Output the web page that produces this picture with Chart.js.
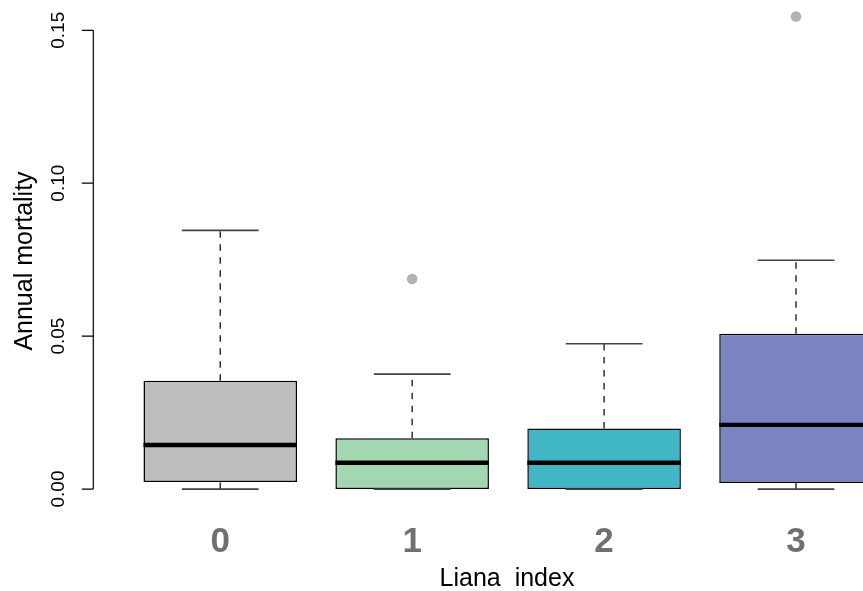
<!DOCTYPE html>
<html>
<head>
<meta charset="utf-8">
<script src="https://cdn.jsdelivr.net/npm/chart.js@4.4.0/dist/chart.umd.min.js"></script>
<style>
  html, body { margin: 0; padding: 0; background: #fff; }
  #wrap { width: 863px; height: 591px; }
</style>
</head>
<body>
<div id="wrap"><canvas id="mortChart" width="863" height="591"></canvas></div>
<script>
// groups on the x axis
const lianaIndex = ['0', '1', '2', '3'];
const positions = [1, 2, 3, 4];

// box statistics
const whiskerLow = [0, 0, 0, 0];
const q1 = [0.0023, 0, 0, 0.0020];
const median = [0.0144, 0.0086, 0.0086, 0.0210];
const q3 = [0.0354, 0.0166, 0.0198, 0.0508];
const whiskerHigh = [0.0846, 0.0376, 0.0475, 0.0748];

// outliers (position, value)
const outlierPos = [2, 4];
const outlierValue = [0.0687, 0.1545];

const yTicks = [0, 0.05, 0.10, 0.15];
const yTickLabels = ['0.00', '0.05', '0.10', '0.15'];

const boxColors = ['#bebebe', '#a3d7b2', '#41b6c4', '#7b84c1'];
const FONT = "'Liberation Sans', Arial, Helvetica, sans-serif";

// whiskers, caps and medians drawn on top of the boxes
const boxExtras = {
	id: 'boxExtras',
	afterDatasetsDraw(chart) {
		const ctx = chart.ctx;
		const xs = chart.scales.x;
		const ys = chart.scales.y;
		const bars = chart.getDatasetMeta(0).data;
		ctx.save();
		for (let i = 0; i < positions.length; i++) {
			const cx = xs.getPixelForValue(positions[i]);
			const half = bars[i].width / 2;
			const capHalf = half / 2;

			// dashed whiskers
			ctx.strokeStyle = '#222';
			ctx.lineWidth = 1.4;
			ctx.setLineDash([6.5, 6.5]);
			ctx.beginPath();
			ctx.moveTo(cx, ys.getPixelForValue(q3[i]));
			ctx.lineTo(cx, ys.getPixelForValue(whiskerHigh[i]));
			ctx.moveTo(cx, ys.getPixelForValue(whiskerLow[i]));
			ctx.lineTo(cx, ys.getPixelForValue(q1[i]));
			ctx.stroke();

			// caps
			ctx.setLineDash([]);
			ctx.strokeStyle = '#444';
			ctx.lineWidth = 1.7;
			ctx.beginPath();
			let yh = ys.getPixelForValue(whiskerHigh[i]);
			let yl = ys.getPixelForValue(whiskerLow[i]);
			ctx.moveTo(cx - capHalf, yh);
			ctx.lineTo(cx + capHalf, yh);
			ctx.moveTo(cx - capHalf, yl);
			ctx.lineTo(cx + capHalf, yl);
			ctx.stroke();

			// median
			ctx.strokeStyle = '#000';
			ctx.lineWidth = 4.3;
			ctx.beginPath();
			let ym = ys.getPixelForValue(median[i]);
			ctx.moveTo(cx - half, ym);
			ctx.lineTo(cx + half, ym);
			ctx.stroke();
		}
		ctx.restore();
	},
	afterDraw(chart) {
		const ctx = chart.ctx;
		const xs = chart.scales.x;
		const ys = chart.scales.y;
		const axisX = chart.chartArea.left + 0.3;
		ctx.save();

		// y axis line and ticks (R style, only over the tick range)
		ctx.strokeStyle = '#000';
		ctx.lineWidth = 1.2;
		ctx.beginPath();
		ctx.moveTo(axisX, ys.getPixelForValue(yTicks[0]));
		ctx.lineTo(axisX, ys.getPixelForValue(yTicks[yTicks.length - 1]));
		yTicks.forEach(v => {
			const py = ys.getPixelForValue(v);
			ctx.moveTo(axisX, py);
			ctx.lineTo(axisX - 11.5, py);
		});
		ctx.stroke();

		// rotated y tick labels
		ctx.fillStyle = '#000';
		ctx.font = '19px ' + FONT;
		ctx.textAlign = 'center';
		ctx.textBaseline = 'alphabetic';
		yTicks.forEach((v, i) => {
			ctx.save();
			ctx.translate(63.5, ys.getPixelForValue(v));
			ctx.rotate(-Math.PI / 2);
			ctx.fillText(yTickLabels[i], 0, 0);
			ctx.restore();
		});

		// y title
		ctx.save();
		ctx.font = '25px ' + FONT;
		ctx.translate(31.7, 261);
		ctx.rotate(-Math.PI / 2);
		ctx.fillText('Annual mortality', 0, 0);
		ctx.restore();

		// x tick labels
		ctx.fillStyle = '#707072';
		ctx.font = 'bold 35px ' + FONT;
		positions.forEach((p, i) => {
			ctx.fillText(lianaIndex[i], xs.getPixelForValue(p), 552.3);
		});

		// x title
		ctx.fillStyle = '#000';
		ctx.font = '25px ' + FONT;
		ctx.fillText('Liana  index', 507, 586);

		ctx.restore();
	}
};

const boxData = positions.map((p, i) => ({ x: p, y: [q1[i], q3[i]] }));
const outlierData = outlierPos.map((p, i) => ({ x: p, y: outlierValue[i] }));

const mortChart = new Chart(document.getElementById('mortChart'), {
	type: 'bar',
	data: {
		datasets: [
			{
				type: 'bar',
				label: 'boxes',
				data: boxData,
				backgroundColor: boxColors,
				borderColor: '#000',
				borderWidth: 1.5,
				borderSkipped: false,
				categoryPercentage: 1,
				barPercentage: 0.8,
				grouped: false,
			},
			{
				type: 'scatter',
				label: 'outliers',
				data: outlierData,
				backgroundColor: '#b3b3b3',
				borderWidth: 0,
				pointRadius: 5.3,
			},
		],
	},
	options: {
		responsive: false,
		animation: false,
		layout: { autoPadding: false, padding: { left: 93, right: 0, top: 0, bottom: 83 } },
		plugins: { legend: { display: false }, tooltip: { enabled: false } },
		scales: {
			x: {
				type: 'linear', min: 0.337, max: 4.349, offset: false, display: false,
				// ticks only at the group positions so bar width follows the group spacing
				afterBuildTicks: s => { s.ticks = positions.map(v => ({ value: v })); },
			},
			y: { type: 'linear', min: -0.0062, max: 0.1599, display: false },
		},
	},
	plugins: [boxExtras],
});
</script>
</body>
</html>
